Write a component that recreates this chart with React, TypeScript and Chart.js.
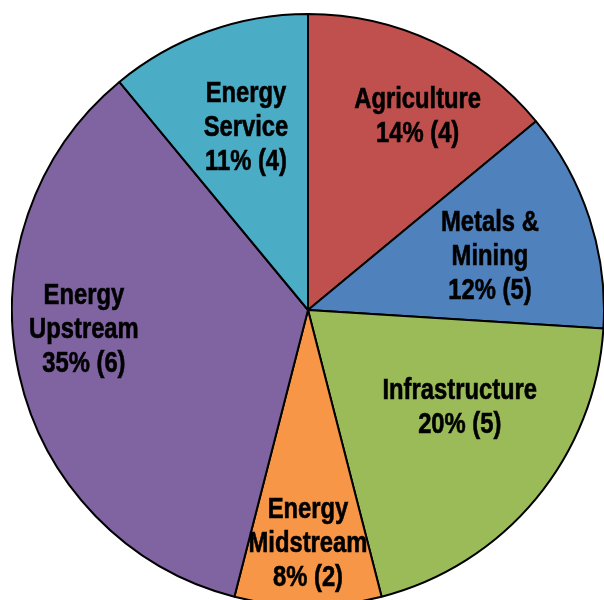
import React, { useEffect, useRef } from "react";
import { Chart, registerables } from "chart.js";

Chart.register(...registerables);

const categories = ["Agriculture", "Metals & Mining", "Infrastructure", "Energy Midstream", "Energy Upstream", "Energy Service"];
const labelLines = [["Agriculture"], ["Metals &", "Mining"], ["Infrastructure"], ["Energy", "Midstream"], ["Energy", "Upstream"], ["Energy", "Service"]];
const percents = [14, 12, 20, 8, 35, 11];
const counts = [4, 5, 5, 2, 6, 4];
const colors = ["#C0504D", "#4F81BD", "#9BBB59", "#F79646", "#8064A2", "#4BACC6"];
// label placement: fraction of radius and angle offset (degrees) from slice mid-angle
const labelRadius = [0.75, 0.64, 0.61, 0.79, 0.76, 0.65];
const labelAngleOffset = [4.4, 1.8, -6.8, 0, 7.6, 1];

const labelPlugin = {
  id: "sliceLabels",
  afterDatasetsDraw(chart: any) {
    const ctx = chart.ctx;
    const meta = chart.getDatasetMeta(0);
    const fontSize = 29;
    const lineH = 34;
    const sx = 0.82;
    ctx.save();
    ctx.fillStyle = "#000";
    ctx.strokeStyle = "#000";
    ctx.lineWidth = 0.6;
    ctx.font = `bold ${fontSize}px "Liberation Sans", Arial, sans-serif`;
    ctx.textAlign = "center";
    ctx.textBaseline = "middle";
    meta.data.forEach((arc: any, i: number) => {
      const p = arc.getProps(["x", "y", "startAngle", "endAngle", "outerRadius"], true);
      const mid = (p.startAngle + p.endAngle) / 2 + (labelAngleOffset[i] * Math.PI) / 180;
      const r = p.outerRadius * labelRadius[i];
      const cx = p.x + Math.cos(mid) * r;
      const cy = p.y + Math.sin(mid) * r;
      const lines = [...labelLines[i], `${percents[i]}% (${counts[i]})`];
      const top = cy - ((lines.length - 1) * lineH) / 2;
      lines.forEach((t, j) => {
        ctx.save();
        ctx.translate(cx, top + j * lineH);
        ctx.scale(sx, 1);
        ctx.fillText(t, 0, 0);
        ctx.strokeText(t, 0, 0);
        ctx.restore();
      });
    });
    ctx.restore();
  },
};

export default function App() {
  const ref = useRef<HTMLCanvasElement>(null);
  useEffect(() => {
    if (!ref.current) return;
    const chart = new Chart(ref.current, {
      type: "pie",
      data: {
        labels: categories,
        datasets: [
          {
            data: percents,
            backgroundColor: colors,
            borderColor: "#000",
            borderWidth: 2,
          },
        ],
      },
      options: {
        responsive: false,
        animation: false,
        layout: { padding: 0 },
        plugins: { legend: { display: false }, tooltip: { enabled: false } },
      },
      plugins: [labelPlugin],
    });
    return () => chart.destroy();
  }, []);
  return (
    <div style={{ position: "fixed", left: 0, top: 0, width: 604, height: 600, overflow: "hidden", background: "#fff" }}>
      <canvas ref={ref} width={594} height={594} style={{ position: "absolute", left: 11, top: 13, width: 594, height: 594 }} />
    </div>
  );
}
